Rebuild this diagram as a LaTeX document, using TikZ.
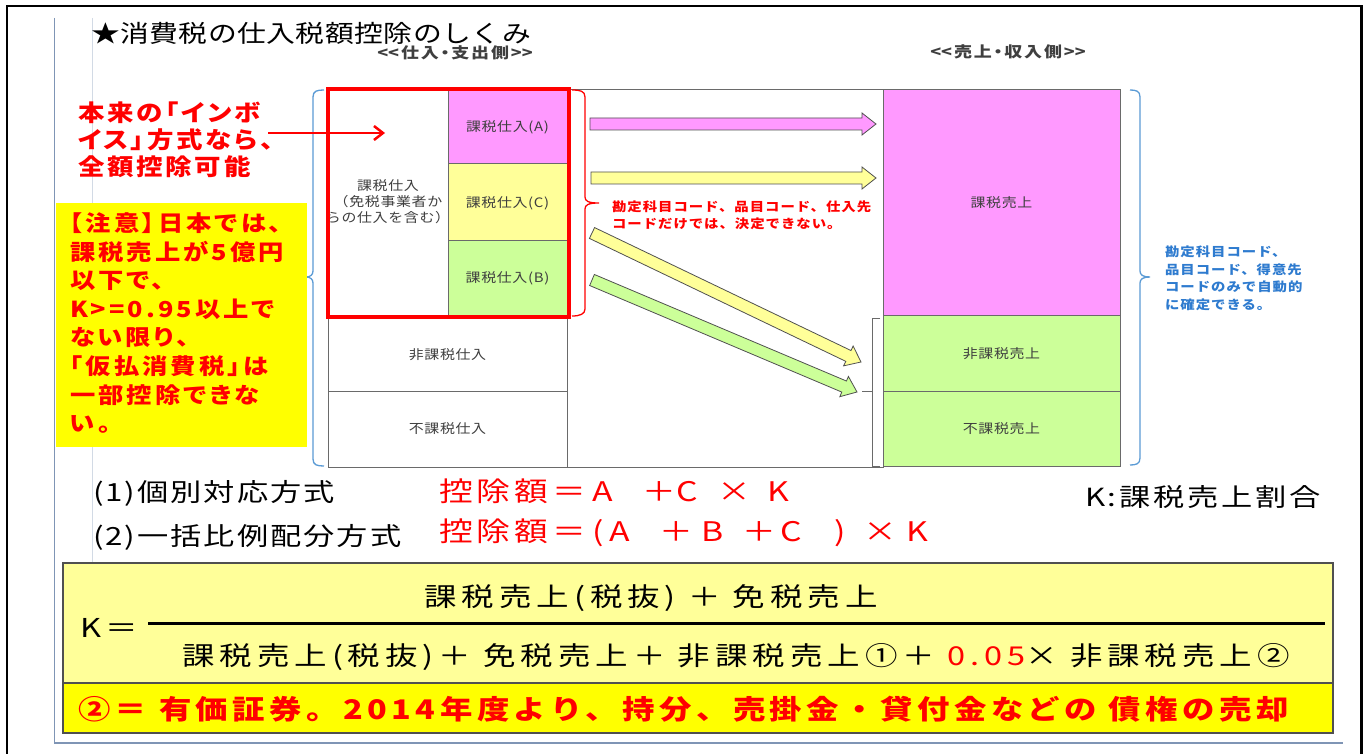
\documentclass[tikz,border=0pt]{standalone}
\usepackage{fontspec}
\setmainfont{Noto Sans CJK JP}
\usetikzlibrary{calc,arrows.meta}
\newcommand\jf[4]{\fontsize{#1pt}{#1pt}\selectfont\addfontfeatures{FakeStretch=#2,LetterSpace=#3#4}}
\newcommand\pc[2]{\makebox[#1pt][l]{#2}}
\definecolor{mag}{HTML}{FF99FF}
\definecolor{lyel}{HTML}{FFFF99}
\definecolor{lgrn}{HTML}{CCFF99}
\definecolor{yel}{HTML}{FFFF00}
\definecolor{rd}{HTML}{FF0000}
\definecolor{bbr}{HTML}{5B9BD5}
\definecolor{btx}{HTML}{2E7BCF}
\definecolor{gln}{HTML}{6A6A6A}
\definecolor{txg}{HTML}{3F3F3F}
\definecolor{frm}{HTML}{7F95B5}
\definecolor{aol}{HTML}{505050}
\newcommand\blockarrow[3]{%
  \coordinate (tmpH) at ($(#2)!14pt!(#1)$);
  \draw[barrowst, fill=#3] ($(#1)!6pt!90:(#2)$) -- ($(tmpH)!6pt!-90:(#1)$) -- ($(tmpH)!11pt!-90:(#1)$) -- (#2) -- ($(tmpH)!11pt!90:(#1)$) -- ($(tmpH)!6pt!90:(#1)$) -- ($(#1)!6pt!-90:(#2)$) -- cycle;}
\begin{document}
\begin{tikzpicture}[x=1pt,y=-1pt,
  txt/.style={inner sep=0pt, outer sep=0pt},
  cell/.style={draw=gln, line width=0.9pt, inner sep=0pt, outer sep=0pt},
  ctext/.style={txt, text=txg, font={\jf{13}{1.15}{5}{}}},
  redl/.style={txt, anchor=west, text=rd, font={\bfseries\jf{23}{1.15}{12}{,RawFeature=+palt}}},
  yell/.style={txt, anchor=west, text=rd, font={\bfseries\jf{22}{1.15}{14}{,RawFeature=+palt}}},
  note/.style={txt, anchor=west, text=rd, font={\bfseries\jf{12.5}{1.15}{8}{}}},
  bnote/.style={txt, anchor=west, text=btx, font={\bfseries\jf{12.5}{1.15}{8}{}}},
  head/.style={txt, text=txg, font={\bfseries\jf{15}{1.2}{12}{,RawFeature=+palt}}},
  meth/.style={txt, anchor=west, font={\jf{25}{1.25}{8}{}}},
  form/.style={txt, anchor=west, text=rd, font={\jf{27}{1.25}{15}{}}},
  kf/.style={txt, font={\jf{26}{1.25}{19}{}}},
  barrowst/.style={draw=aol, line width=0.8pt, line join=miter},
  brc/.style={line width=1.3pt}]
\useasboundingbox (0,0) rectangle (1366,754);
\fill[white] (0,0) rectangle (1366,754);
% frames
\draw[line width=2pt] (6.5,754) -- (6.5,6.5) -- (1362,6.5);
\draw[line width=3pt] (1361.5,5.5) -- (1361.5,754);
\draw[frm, line width=1.3pt] (54.5,18) -- (54.5,743) -- (1343,743);
\draw[frm!35, line width=1pt] (92,18) -- (92,563);
% title and headers
\node[txt, anchor=west, font={\jf{24}{1.2}{2}{}}] (title) at (91,33) {★消費税の仕入税額控除のしくみ};
\node[head] (h1) at (455,53) {<\kern0pt<仕入・支出側>\kern0pt>};
\node[head] (h2) at (1008,52) {<\kern0pt<売上・収入側>\kern0pt>};
% middle box and tables
\node[cell, minimum width=316pt, minimum height=378pt] (mid) at (725,278) {};
\node[cell, fill=white, minimum width=120pt, minimum height=227pt] (kz) at (388,202.5) {};
\node[ctext] (kz1) at (388,186) {課税仕入};
\node[ctext] (kz2) at (388,202) {（免税事業者か};
\node[ctext] (kz3) at (388,218) {らの仕入を含む）};
\node[cell, fill=mag, minimum width=119pt, minimum height=74pt] (ta) at (507.5,126) {};
\node[ctext] (tat) at (507.5,127) {課税仕入(A)};
\node[cell, fill=lyel, minimum width=119pt, minimum height=77pt] (tc) at (507.5,201.5) {};
\node[ctext] (tct) at (507.5,203) {課税仕入(C)};
\node[cell, fill=lgrn, minimum width=119pt, minimum height=76pt] (tb) at (507.5,278) {};
\node[ctext] (tbt) at (507.5,278) {課税仕入(B)};
\node[cell, fill=white, minimum width=239pt, minimum height=75pt] (hk) at (447.5,353.5) {};
\node[ctext] (hkt) at (447.5,355) {非課税仕入};
\node[cell, fill=white, minimum width=239pt, minimum height=76pt] (fk) at (447.5,429) {};
\node[ctext] (fkt) at (447.5,429) {不課税仕入};
\node[cell, fill=mag, minimum width=237pt, minimum height=226pt] (ku) at (1001.5,202) {};
\node[ctext] (kut) at (1001.5,203) {課税売上};
\node[cell, fill=lgrn, minimum width=237pt, minimum height=76pt] (hu) at (1001.5,353) {};
\node[ctext] (hut) at (1001.5,354) {非課税売上};
\node[cell, fill=lgrn, minimum width=237pt, minimum height=75pt] (fu) at (1001.5,428.5) {};
\node[ctext] (fut) at (1001.5,429) {不課税売上};
% red frame
\node[draw=rd, line width=3.5pt, inner sep=0pt, minimum width=241pt, minimum height=228pt] (redbox) at (448.5,203) {};
% braces
\draw[bbr, brc] (324,90) .. controls (317,90) and (313,91) .. (313,97) -- (313,271) .. controls (313,275) and (310,277) .. (306,277) .. controls (310,277) and (313,279) .. (313,283) -- (313,459) .. controls (313,465) and (317,466) .. (324,466);
\draw[rd, brc] (572,90) .. controls (580,90) and (585,91) .. (585,97) -- (585,197) .. controls (585,201) and (588,203) .. (599,203) .. controls (588,203) and (585,205) .. (585,209) -- (585,309) .. controls (585,314) and (580,316) .. (572,316);
\draw[gln, line width=1pt] (880,318) -- (872,318) -- (872,466) -- (880,466) (872,391) -- (862,391);
\draw[bbr, brc] (1130,90) .. controls (1136,90) and (1140,91) .. (1140,97) -- (1140,271) .. controls (1140,275) and (1143,277) .. (1150,277) .. controls (1143,277) and (1140,279) .. (1140,283) -- (1140,458) .. controls (1140,464) and (1136,465) .. (1130,465);
% block arrows
\coordinate (a1s) at (590,124); \coordinate (a1e) at (876,124);
\coordinate (a2s) at (591,178); \coordinate (a2e) at (876,178);
\coordinate (a3s) at (592,233); \coordinate (a3e) at (861,362);
\coordinate (a4s) at (592,280); \coordinate (a4e) at (857,392);
\blockarrow{a1s}{a1e}{mag}
\blockarrow{a2s}{a2e}{lyel}
\blockarrow{a3s}{a3e}{lyel}
\blockarrow{a4s}{a4e}{lgrn}
% notes
\node[note] (n1) at (612,207) {勘定科目コード、品目コード、仕入先};
\node[note] (n2) at (612,224) {コードだけでは、決定できない。};
\node[bnote] (b1) at (1165,252) {勘定科目コード、};
\node[bnote] (b2) at (1165,269.5) {品目コード、得意先};
\node[bnote] (b3) at (1165,287) {コードのみで自動的};
\node[bnote] (b4) at (1165,304.5) {に確定できる。};
% left red text and arrow
\node[redl] (r1) at (78,113) {本来の「インボ};
\node[redl] (r2) at (78,140) {イス」方式なら、};
\node[redl] (r3) at (78,167) {全額控除可能};
\coordinate (ras) at (268,133);
\coordinate (rae) at (385,133);
\draw[rd, line width=2.5pt, -{Straight Barb[length=9pt,width=14pt,line width=2.5pt]}] (ras) -- (rae);
% yellow note
\node[fill=yel, inner sep=0pt, minimum width=251pt, minimum height=243pt] (ybox) at (181,325) {};
\node[yell] (y1) at (70,223) {【注意】日本では、};
\node[yell] (y2) at (70,251.7) {課税売上が5億円};
\node[yell] (y3) at (70,280.4) {以下で、};
\node[yell] (y4) at (70,309.1) {K>=0.95以上で};
\node[yell] (y5) at (70,337.8) {ない限り、};
\node[yell] (y6) at (70,366.5) {「仮払消費税」は};
\node[yell] (y7) at (70,395.2) {一部控除できな};
\node[yell] (y8) at (70,424) {い。};
% methods
\node[meth] (m1) at (93,493) {(1)個別対応方式};
\node[form] (f1) at (439,491) {\pc{154}{控除額＝}\pc{50}{A}\pc{34}{＋}\pc{41}{C}\pc{50}{×}K};
\node[meth, font={\jf{25}{1.25}{11}{}}] (kd) at (1085,497) {K:課税売上割合};
\node[meth] (m2) at (93,537) {(2)一括比例配分方式};
\node[form] (f2) at (439,533) {\pc{154}{控除額＝}\pc{17}{(}\pc{50}{A}\pc{42}{＋}\pc{41}{B}\pc{38}{＋}\pc{54}{C}\pc{29}{)}\pc{42}{×}K};
% formula box
\node[draw=aol, line width=1.5pt, fill=lyel, inner sep=0pt, minimum width=1270pt, minimum height=120pt] (kbox) at (698,623) {};
\node[draw=aol, line width=1.5pt, fill=yel, inner sep=0pt, minimum width=1270pt, minimum height=50pt] (nbox) at (698,708) {};
\node[kf, anchor=west] (kk) at (80,628) {K＝};
\coordinate (fls) at (148,623);
\coordinate (fle) at (1325,623);
\draw[line width=3pt] (fls) -- (fle);
\node[kf] (num) at (651,598) {課税売上(税抜) ＋ 免税売上};
\node[kf] (den) at (736,657) {課税売上(税抜)＋ 免税売上＋ 非課税売上①＋ {\color{rd}0.05}× 非課税売上②};
\node[txt, anchor=west, text=rd, font={\bfseries\jf{27}{1.2}{16.5}{}}] (note2) at (78,709) {②＝ 有価証券。2014年度より、持分、売掛金・貸付金などの 債権の売却};
\end{tikzpicture}
\end{document}
